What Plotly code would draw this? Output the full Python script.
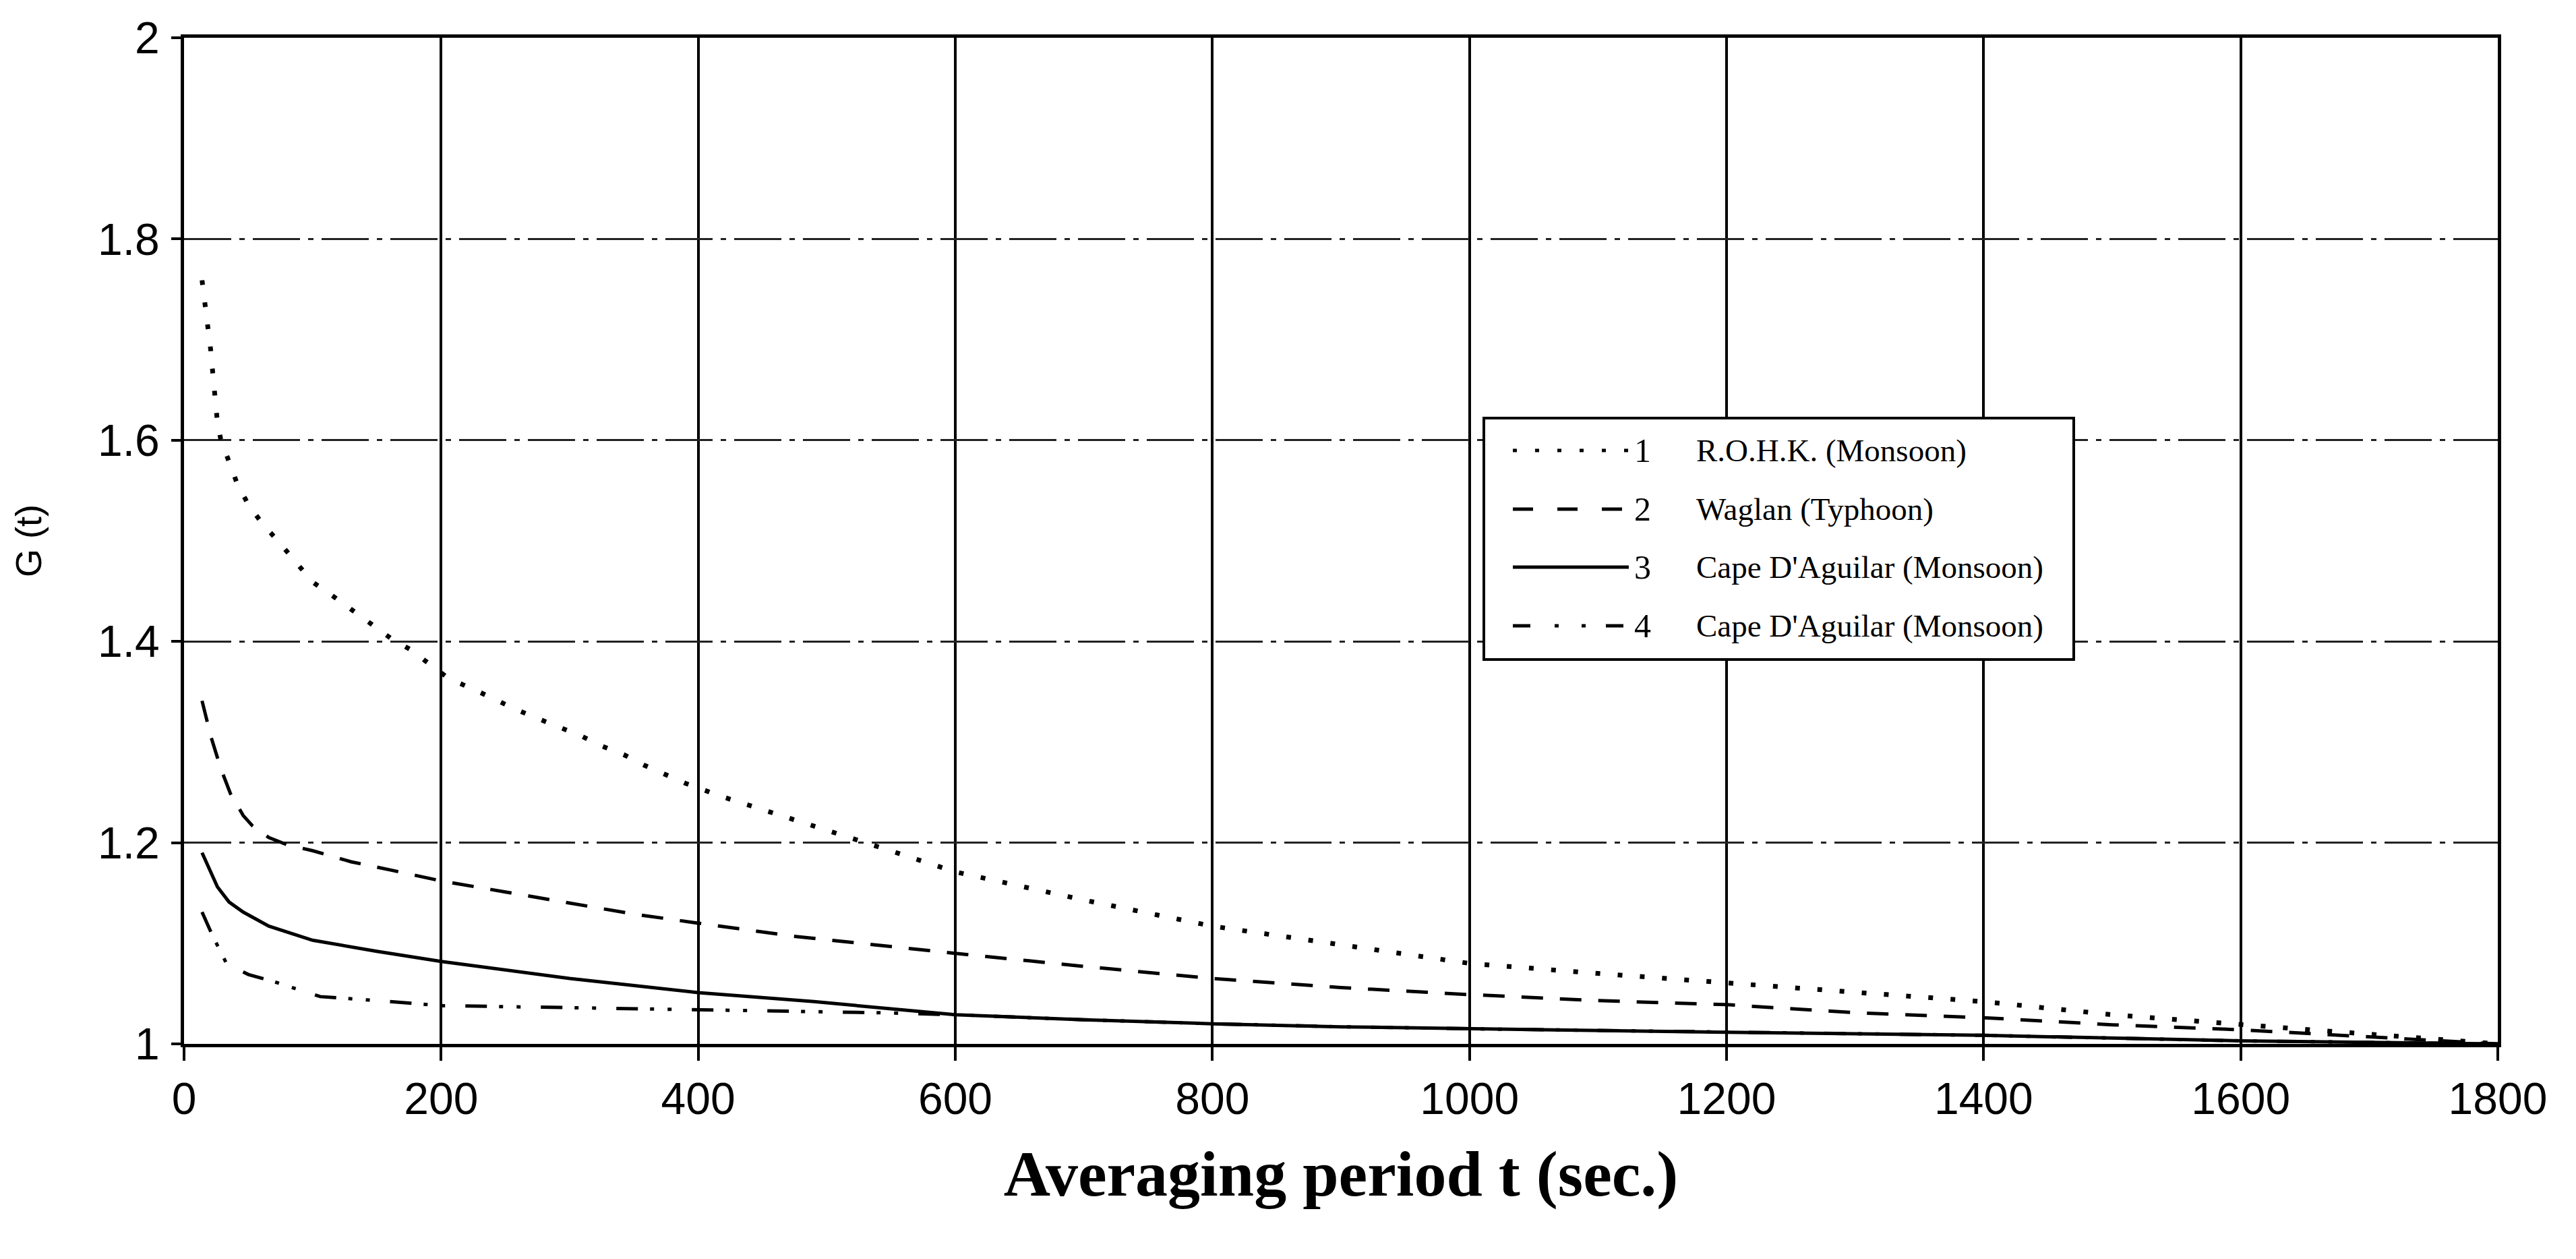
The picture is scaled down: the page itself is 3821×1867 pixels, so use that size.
import plotly.graph_objects as go

# ---------------- data ----------------
t_rohk = [14, 16.4, 18.8, 20.8, 22.4, 23.8, 25.8, 28.5, 34, 41, 50, 61, 73, 85, 100,
          117, 131, 146, 161, 176, 191, 206, 226, 242, 259, 276, 293, 309, 325, 342,
          358, 375, 390, 418, 438, 518, 600, 700, 800, 900, 1000, 1100, 1200, 1300,
          1400, 1500, 1600, 1700, 1800]
g_rohk = [1.759, 1.735, 1.712, 1.689, 1.666, 1.643, 1.620, 1.601, 1.581, 1.558, 1.536,
          1.517, 1.500, 1.482, 1.459, 1.444, 1.431, 1.418, 1.403, 1.392, 1.378, 1.363,
          1.352, 1.342, 1.332, 1.323, 1.314, 1.306, 1.296, 1.2875, 1.277, 1.268, 1.259,
          1.246, 1.238, 1.205, 1.171, 1.143, 1.117, 1.098, 1.080, 1.070, 1.061, 1.051,
          1.042, 1.029, 1.019, 1.010, 1.000]

t_waglan = [14, 21, 28.5, 36, 46, 53, 66, 80, 100, 130, 160, 200, 250, 300, 350, 400,
            474, 600, 700, 800, 900, 1000, 1100, 1200, 1300, 1400, 1500, 1600, 1700, 1800]
g_waglan = [1.341, 1.305, 1.274, 1.249, 1.227, 1.217, 1.205, 1.198, 1.192, 1.181, 1.173,
            1.162, 1.151, 1.140, 1.129, 1.120, 1.107, 1.090, 1.077, 1.065, 1.056, 1.049,
            1.043, 1.039, 1.031, 1.026, 1.019, 1.014, 1.007, 1.000]

t_cape3 = [14, 20, 26, 35, 46, 66, 100, 150, 200, 300, 400, 490, 600, 700, 800, 900,
           1000, 1200, 1400, 1600, 1800]
g_cape3 = [1.190, 1.172, 1.156, 1.141, 1.131, 1.117, 1.103, 1.092, 1.082, 1.065, 1.051,
           1.042, 1.029, 1.024, 1.020, 1.017, 1.015, 1.0115, 1.0085, 1.003, 1.000]

t_cape4 = [14, 22, 33, 50, 72, 106, 150, 200, 300, 400, 474, 540, 600, 700, 800, 900,
           1000, 1200, 1400, 1600, 1800]
g_cape4 = [1.131, 1.108, 1.080, 1.069, 1.061, 1.047, 1.043, 1.038, 1.036, 1.034, 1.032,
           1.031, 1.029, 1.024, 1.020, 1.017, 1.015, 1.0115, 1.0085, 1.003, 1.000]

series_numbers = ["1", "2", "3", "4"]
series_names = ["R.O.H.K. (Monsoon)", "Waglan (Typhoon)",
                "Cape D'Aguilar (Monsoon)", "Cape D'Aguilar (Monsoon)"]

x_tick_values = [0, 200, 400, 600, 800, 1000, 1200, 1400, 1600, 1800]
x_tick_labels = ["0", "200", "400", "600", "800", "1000", "1200", "1400", "1600", "1800"]
y_tick_values = [1, 1.2, 1.4, 1.6, 1.8, 2]
y_tick_labels = ["1", "1.2", "1.4", "1.6", "1.8", "2"]

x_title = "Averaging period t (sec.)"
y_title = "G (t)"

# ---------------- styles ----------------
line_styles = [
    dict(width=7, dash="7px,26px"),                          # dotted
    dict(width=5, dash="32px,25px"),                         # dashed
    dict(width=5, dash="solid"),                             # solid
    dict(width=5, dash="32px,18px,6px,20px,6px,30px"),       # dash-dot-dot
]
legend_dashes = [
    "6px,27px",
    "30px,36px",
    "solid",
    "26px,36px,6px,34px,6px,30px",
]

W, H = 3821, 1867
ML, MR, MT, MB = 265, 124, 48, 327
PW, PH = W - ML - MR, H - MT - MB


def px_to_paper_x(px):
    return (px - ML) / PW


def px_to_paper_y(py):
    return (H - MB - py) / PH


fig = go.Figure()
all_t = [t_rohk, t_waglan, t_cape3, t_cape4]
all_g = [g_rohk, g_waglan, g_cape3, g_cape4]
for i in range(4):
    fig.add_trace(go.Scatter(
        x=all_t[i], y=all_g[i], mode="lines",
        name=series_numbers[i] + " " + series_names[i],
        line=dict(color="black", width=line_styles[i]["width"], dash=line_styles[i]["dash"]),
        cliponaxis=False, showlegend=False,
    ))

# ---------------- manual legend (long line samples like the original) ----------------
box_x0, box_x1 = px_to_paper_x(2193), px_to_paper_x(3068)
box_y0, box_y1 = px_to_paper_y(970), px_to_paper_y(612)
shapes = [dict(type="rect", xref="paper", yref="paper", x0=box_x0, x1=box_x1,
               y0=box_y0, y1=box_y1, line=dict(color="black", width=4),
               fillcolor="white", layer="above")]
annotations = []
row_px = [660, 747, 833, 920]
for i in range(4):
    yy = px_to_paper_y(row_px[i])
    shapes.append(dict(type="line", xref="paper", yref="paper",
                       x0=px_to_paper_x(2236), x1=px_to_paper_x(2408), y0=yy, y1=yy,
                       line=dict(color="black", width=5, dash=legend_dashes[i]),
                       layer="above"))
    annotations.append(dict(xref="paper", yref="paper", x=px_to_paper_x(2428), y=yy,
                            text=series_numbers[i], showarrow=False, xanchor="center",
                            yanchor="middle",
                            font=dict(family="Liberation Serif, Times New Roman, serif",
                                      size=50, color="black")))
    annotations.append(dict(xref="paper", yref="paper", x=px_to_paper_x(2506), y=yy,
                            text=series_names[i], showarrow=False, xanchor="left",
                            yanchor="middle",
                            font=dict(family="Liberation Serif, Times New Roman, serif",
                                      size=47, color="black")))

fig.update_layout(
    width=W, height=H,
    margin=dict(l=ML, r=MR, t=MT, b=MB, autoexpand=False),
    paper_bgcolor="white", plot_bgcolor="white",
    showlegend=False,
    shapes=shapes, annotations=annotations,
)

fig.update_xaxes(
    range=[0, 1800], tickvals=x_tick_values, ticktext=x_tick_labels,
    showgrid=True, gridcolor="black", gridwidth=4, zeroline=False,
    showline=True, linecolor="black", linewidth=5, mirror=True,
    ticks="outside", ticklen=20, tickwidth=4, tickcolor="black",
    ticklabelstandoff=0,
    tickfont=dict(family="Liberation Sans Narrow, Arial Narrow, Liberation Sans, Arial, sans-serif",
                  size=66, color="black"),
    title=dict(text=x_title, standoff=42,
               font=dict(family="Liberation Serif, Times New Roman, serif", size=96,
                         color="black", weight="bold")),
)
fig.update_yaxes(
    range=[1, 2], tickvals=y_tick_values, ticktext=y_tick_labels,
    showgrid=True, gridcolor="#222222", gridwidth=3, griddash="70px,12px,8px,12px",
    zeroline=False,
    showline=True, linecolor="black", linewidth=5, mirror=True,
    ticks="outside", ticklen=14, tickwidth=4, tickcolor="black",
    ticklabelstandoff=4,
    tickfont=dict(family="Liberation Sans, Arial, sans-serif", size=66, color="black"),
    title=dict(text=y_title, standoff=68,
               font=dict(family="Liberation Sans, Arial, sans-serif", size=54, color="black")),
)

fig.write_html("out.html")
